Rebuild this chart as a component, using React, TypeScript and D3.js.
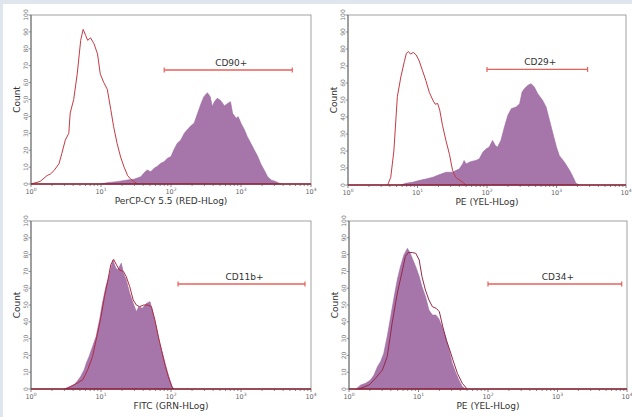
import React from 'react';
import * as d3 from 'd3';

// x values are log10 of channel intensity, y values are event counts
const cd90Log = [1.0, 1.09, 1.23, 1.38, 1.47, 1.57, 1.61, 1.66, 1.71, 1.76, 1.8, 1.85, 1.9, 1.95, 2.0, 2.04, 2.09, 2.14, 2.19, 2.23, 2.28, 2.33, 2.38, 2.43, 2.47, 2.52, 2.56, 2.59, 2.62, 2.66, 2.7, 2.74, 2.76, 2.81, 2.85, 2.88, 2.93, 2.96, 3.0, 3.05, 3.09, 3.14, 3.19, 3.24, 3.28, 3.33, 3.38, 3.43, 3.5, 3.57];
const cd90Count = [0, 0.8, 1.4, 2.4, 2.8, 4.3, 6.3, 8.3, 7.3, 9.3, 10.3, 12.2, 13.2, 15.2, 16.2, 20.1, 24.1, 26, 30, 32, 34.3, 35.9, 41.8, 47.7, 51.7, 54, 51.7, 45.8, 48.7, 50.7, 49.7, 47.7, 46.2, 47.7, 48.7, 41.8, 38.9, 39.8, 35.9, 32, 28, 24.1, 20.1, 16.2, 12.2, 8.3, 4.3, 2.4, 1.4, 0];
const cd90CtrlLog = [0, 0.13, 0.23, 0.28, 0.33, 0.4, 0.44, 0.49, 0.54, 0.56, 0.61, 0.66, 0.71, 0.745, 0.78, 0.81, 0.85, 0.9, 0.95, 0.99, 1.04, 1.09, 1.14, 1.18, 1.23, 1.28, 1.33, 1.38, 1.42, 1.47, 1.52];
const cd90CtrlCount = [0, 1.5, 5, 6, 8, 12, 18, 26, 30, 42, 50, 65, 85, 91.5, 88, 85, 86.5, 83, 77, 65, 60, 56, 44, 34, 24, 16, 10, 5, 3, 1.5, 0];

const cd29Log = [0.76, 0.83, 0.93, 1.02, 1.12, 1.22, 1.31, 1.41, 1.505, 1.55, 1.6, 1.65, 1.67, 1.7, 1.745, 1.79, 1.84, 1.89, 1.94, 1.99, 2.03, 2.08, 2.12, 2.15, 2.2, 2.25, 2.3, 2.35, 2.42, 2.47, 2.505, 2.54, 2.59, 2.635, 2.68, 2.73, 2.8, 2.85, 2.9, 2.95, 3.0, 3.04, 3.115, 3.19, 3.24, 3.28, 3.33];
const cd29Count = [0, 1, 1.6, 2.6, 3.5, 4.5, 6, 7.5, 7.5, 8.5, 9.4, 12.4, 14.4, 12.4, 13.4, 14, 14.4, 15.4, 19.3, 21.3, 22.2, 26.2, 23.2, 22.2, 26.2, 34, 41, 44.9, 45.9, 47.8, 54.7, 56.7, 58.7, 59.6, 57.7, 53.7, 49.8, 45.9, 38, 30, 22.2, 17.3, 13.4, 8.5, 4.5, 1, 0];
const cd29CtrlLog = [0.57, 0.615, 0.66, 0.71, 0.76, 0.81, 0.84, 0.87, 0.9, 0.94, 0.98, 1.02, 1.07, 1.12, 1.17, 1.22, 1.255, 1.29, 1.32, 1.36, 1.41, 1.46, 1.505, 1.55, 1.6, 1.65, 1.7];
const cd29CtrlCount = [0, 4.5, 20, 52, 63.5, 72.5, 77.5, 78.5, 77, 78, 76.5, 73.5, 67.5, 61.5, 54.5, 50, 47.5, 48, 44, 35, 26, 18, 8.5, 4.5, 3, 1.6, 0];

const cd11bLog = [0.47, 0.54, 0.615, 0.66, 0.71, 0.76, 0.79, 0.83, 0.88, 0.93, 0.98, 1.02, 1.07, 1.12, 1.17, 1.21, 1.24, 1.29, 1.32, 1.36, 1.41, 1.46, 1.505, 1.54, 1.59, 1.65, 1.7, 1.745, 1.79, 1.84, 1.89, 1.94, 1.99, 2.03];
const cd11bCount = [0, 1.2, 2.6, 4.6, 7.5, 11.5, 15.4, 19.4, 25.3, 31.3, 41.2, 51, 61, 68, 76.8, 72, 71, 74.9, 69, 65, 57, 51, 46, 49, 48, 51, 52, 45, 37, 27, 19.4, 11.5, 4.6, 0];
const cd11bCtrlLog = [0.5, 0.64, 0.74, 0.81, 0.88, 0.95, 1.0, 1.05, 1.1, 1.14, 1.18, 1.22, 1.26, 1.32, 1.36, 1.41, 1.46, 1.505, 1.55, 1.61, 1.67, 1.72, 1.77, 1.82, 1.865, 1.91, 1.96, 2.01, 2.04];
const cd11bCtrlCount = [0, 3, 5.5, 11.5, 19.4, 33, 43, 55, 65, 74, 77.2, 74, 71, 70, 67, 61, 53, 50, 49, 50, 50, 49, 41, 31, 23, 15, 7.5, 1.6, 0];

const cd34Log = [0.1, 0.17, 0.24, 0.31, 0.36, 0.41, 0.455, 0.5, 0.55, 0.6, 0.65, 0.695, 0.74, 0.79, 0.84, 0.87, 0.91, 0.96, 1.01, 1.05, 1.1, 1.15, 1.2, 1.25, 1.29, 1.34, 1.39, 1.44, 1.485, 1.53, 1.58, 1.63, 1.68];
const cd34Count = [0, 2.4, 3.4, 5.4, 8.3, 13.3, 16.3, 21.2, 31.2, 43, 55, 65, 72.8, 79.8, 83.7, 81.7, 77.8, 72.8, 66.9, 60.9, 55, 47, 44, 44, 42, 37, 31, 23.2, 15.3, 10.3, 5.4, 1.4, 0];
const cd34CtrlLog = [0.14, 0.29, 0.38, 0.48, 0.55, 0.62, 0.695, 0.77, 0.81, 0.85, 0.91, 0.96, 1.01, 1.05, 1.1, 1.15, 1.2, 1.255, 1.3, 1.35, 1.4, 1.45, 1.495, 1.56, 1.63, 1.7];
const cd34CtrlCount = [0, 2.4, 6.3, 11.3, 19.2, 39, 57, 70.8, 78.8, 81.2, 81.2, 80.8, 76.8, 66.9, 58.9, 53, 49, 48, 46, 37, 29.2, 23.2, 17.3, 9.3, 3.4, 0];

// gate markers: [start, end] intensity and the count level they sit at
const gateNames = ['CD90+', 'CD29+', 'CD11b+', 'CD34+'];
const gateRanges = [[80, 5400], [100, 2800], [126, 8200], [100, 8400]];
const gateLevels = [67.5, 68, 62.5, 62.5];
const axisLabels = ['PerCP-CY 5.5 (RED-HLog)', 'PE (YEL-HLog)', 'FITC (GRN-HLog)', 'PE (YEL-HLog)'];
const yTicks = d3.range(0, 101, 10);
const xDecades = [0, 1, 2, 3, 4];

const panels = [
  { box: [31, 311, 15, 184], fill: [cd90Log, cd90Count], ctrl: [cd90CtrlLog, cd90CtrlCount], ctrlColor: '#c43a44' },
  { box: [348, 626, 15, 185], fill: [cd29Log, cd29Count], ctrl: [cd29CtrlLog, cd29CtrlCount], ctrlColor: '#c43a44' },
  { box: [31, 311, 221, 389], fill: [cd11bLog, cd11bCount], ctrl: [cd11bCtrlLog, cd11bCtrlCount], ctrlColor: '#b02a40' },
  { box: [349, 627, 221, 389], fill: [cd34Log, cd34Count], ctrl: [cd34CtrlLog, cd34CtrlCount], ctrlColor: '#962848' },
];

const font = '"DejaVu Sans", Verdana, sans-serif';

function Panel({ p, i }: { p: any; i: number }) {
  const [x0, x1, y0, y1] = p.box;
  const x = d3.scaleLog().domain([1, 1e4]).range([x0, x1]);
  const y = d3.scaleLinear().domain([0, 100]).range([y1, y0]);

  const pts = (logs: number[], counts: number[]) => logs.map((l, k) => [10 ** l, counts[k]] as [number, number]);
  const area = d3.area<[number, number]>().x((d) => x(d[0])).y0(y(0)).y1((d) => y(d[1]));
  const line = d3.line<[number, number]>().x((d) => x(d[0])).y((d) => y(d[1]));

  const minor: number[] = [];
  for (let e = 0; e < 4; e++) for (let m = 2; m < 10; m++) minor.push(m * 10 ** e);

  const [g0, g1] = gateRanges[i];
  const gy = y(gateLevels[i]);

  return (
    <g>
      <rect x={x0} y={y0} width={x1 - x0} height={y1 - y0} fill="#fff" stroke="#8a8a8a" strokeWidth={0.8} />
      <path d={area(pts(p.fill[0], p.fill[1])) || ''} fill="#a676ab" stroke="#9a68a0" strokeWidth={0.6} />
      <path d={line(pts(p.ctrl[0], p.ctrl[1])) || ''} fill="none" stroke={p.ctrlColor} strokeWidth={1} />
      <line x1={x0} x2={x1} y1={y(0)} y2={y(0)} stroke="#8b1e30" strokeWidth={1.4} />
      <line x1={x0} x2={x0} y1={y0} y2={y1} stroke="#555" strokeWidth={0.8} />

      {yTicks.map((t) => (
        <g key={t}>
          <line x1={x0 - 2.5} x2={x0} y1={y(t)} y2={y(t)} stroke="#666" strokeWidth={0.7} />
          <text transform={`translate(${x0 - 3},${y(t)}) rotate(-90)`} textAnchor="middle" fontSize={6} fill="#777" fontFamily={font}>{t}</text>
        </g>
      ))}
      {minor.map((m) => (
        <line key={m} x1={x(m)} x2={x(m)} y1={y1} y2={y1 + 2} stroke="#555" strokeWidth={0.7} />
      ))}
      {xDecades.map((e) => (
        <g key={e}>
          <line x1={x(10 ** e)} x2={x(10 ** e)} y1={y1} y2={y1 + 3} stroke="#555" strokeWidth={0.7} />
          <text x={x(10 ** e)} y={y1 + 9.5} textAnchor="middle" fontSize={6.5} fill="#666" fontFamily={font}>
            10<tspan fontSize={4.5} dy={-3}>{e}</tspan>
          </text>
        </g>
      ))}

      <text x={(x0 + x1) / 2} y={y1 + 20} textAnchor="middle" fontSize={9} fill="#333" fontFamily={font}>{axisLabels[i]}</text>
      <text transform={`translate(${x0 - 11.5},${(y0 + y1) / 2}) rotate(-90)`} textAnchor="middle" fontSize={9} fill="#333" fontFamily={font}>Count</text>

      <line x1={x(g0)} x2={x(g1)} y1={gy} y2={gy} stroke="#e8605a" strokeWidth={1.4} />
      <line x1={x(g0)} x2={x(g0)} y1={gy - 2.5} y2={gy + 2.5} stroke="#e8605a" strokeWidth={1.2} />
      <line x1={x(g1)} x2={x(g1)} y1={gy - 2.5} y2={gy + 2.5} stroke="#e8605a" strokeWidth={1.2} />
      <text x={(x(g0) + x(g1)) / 2 + 3} y={gy - 4} textAnchor="middle" fontSize={9} fill="#333" fontFamily={font}>{gateNames[i]}</text>
    </g>
  );
}

export default function App() {
  return (
    <svg width={632} height={417} style={{ position: 'absolute', left: 0, top: 0 }}>
      <rect width={632} height={417} fill="#dfe6ed" />
      <rect x={3} y={4} width={629} height={413} fill="#fff" />
      {panels.map((p, i) => (
        <Panel key={i} p={p} i={i} />
      ))}
    </svg>
  );
}
